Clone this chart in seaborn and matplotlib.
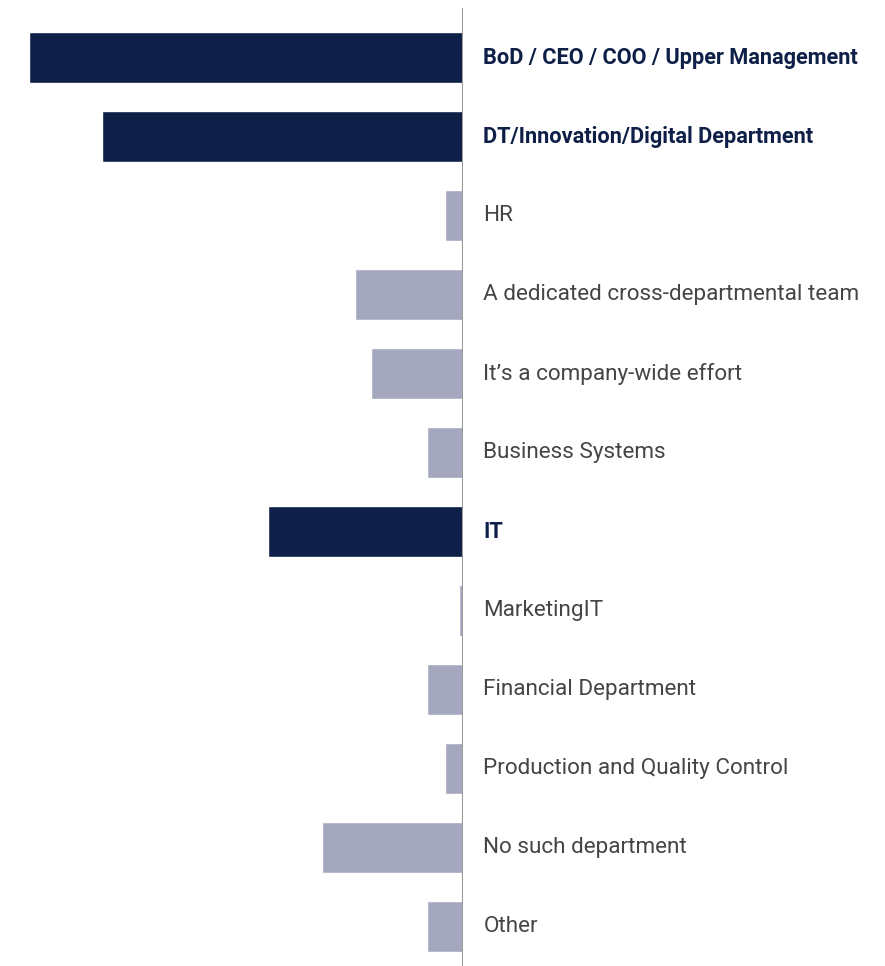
import matplotlib
matplotlib.use("Agg")
import matplotlib.pyplot as plt
import seaborn as sns
import pandas as pd

# share of respondents
departments = [
    "BoD / CEO / COO / Upper Management",
    "DT/Innovation/Digital Department",
    "HR",
    "A dedicated cross-departmental team",
    "It\u2019s a company-wide effort",
    "Business Systems",
    "IT",
    "MarketingIT",
    "Financial Department",
    "Production and Quality Control",
    "No such department",
    "Other",
]
values = [24.1, 20.0, 1.0, 6.0, 5.1, 2.0, 10.8, 0.17, 2.0, 1.0, 7.8, 2.0]
highlight = [True, True, False, False, False, False, True, False, False, False, False, False]

DARK = "#0e1f48"
LIGHT = "#a5a7bf"

df = pd.DataFrame({"dept": departments, "value": values, "top": highlight})
df["neg"] = -df["value"]
df["group"] = df["top"].map({True: "top", False: "rest"})

sns.set_style("white")
plt.rcParams["font.family"] = ["Roboto", "DejaVu Sans"]

W, H = 885, 966
fig = plt.figure(figsize=(W / 100, H / 100), dpi=100)
ax = fig.add_axes([0, 0, 462.5 / W, 958 / H])

sns.barplot(data=df, x="neg", y="dept", hue="group", orient="h",
            palette={"top": DARK, "rest": LIGHT}, dodge=False,
            width=0.645, legend=False, ax=ax, saturation=1)

ax.set_xlim(-462.5 / 18, 0)
ax.set_ylim(11.5, -0.627)
ax.axvline(0, color="#9a9a9a", lw=1.5)

for i, row in df.iterrows():
    ax.annotate(row["dept"], xy=(0, i), xytext=(15, 0), textcoords="offset points",
                va="center", ha="left", annotation_clip=False,
                fontsize=15.7 if row["top"] else 16.2,
                color=DARK if row["top"] else "#454545",
                fontweight="bold" if row["top"] else "normal")

ax.set_xlabel("")
ax.set_ylabel("")
ax.set_xticks([])
ax.set_yticks([])
sns.despine(ax=ax, left=True, bottom=True, right=True, top=True)

fig.savefig("out.png", dpi=100)
